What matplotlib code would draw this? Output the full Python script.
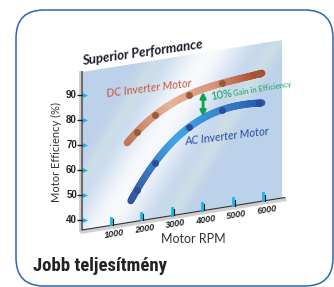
import numpy as np
import matplotlib
matplotlib.use("Agg")
import matplotlib.pyplot as plt
from matplotlib.transforms import Affine2D, offset_copy
from matplotlib.collections import LineCollection
from matplotlib.patches import Polygon, FancyBboxPatch
from matplotlib.colors import LinearSegmentedColormap

# values
rpm_ticks = [1000, 2000, 3000, 4000, 5000, 6000]
eff_ticks = [40, 50, 60, 70, 80, 90]
dc_rpm = [1800, 2400, 3500, 4600, 5800]
dc_eff = [71.7, 77.3, 83.2, 85.8, 87.1]
ac_rpm = [1800, 2400, 3500, 4600, 5800]
ac_eff = [48.6, 58.2, 70.4, 75.0, 75.5]
gain_rpm = 3970
gain_low, gain_high = 73.5, 83.5

fig = plt.figure(figsize=(3.34, 2.87), dpi=100)
ax = fig.add_axes([0, 0, 1, 1])
ax.set_xlim(0, 334)
ax.set_ylim(287, 0)
ax.axis("off")

# skewed "perspective" plane: (rpm, efficiency) -> canvas pixels
chart = Affine2D.from_values(0.0305, -0.00488, 0, -2.5, 82, 320) + ax.transData
EFF_MIN, EFF_MAX, RPM_MAX = 36, 99.2, 6560

# panel background with diagonal highlight
H, W = 287, 334
yy, xx = np.mgrid[0:H, 0:W]
u = xx + 0.6 * yy
white = np.exp(-((u - 240) / 34) ** 2)
green = 0.5 * np.exp(-((u - 300) / 10) ** 2) + 0.4 * np.exp(-((u - 190) / 8) ** 2)
base = np.array([0.74, 0.82, 0.92])
img = base * (1 - white[..., None]) + np.array([0.97, 0.98, 0.99]) * white[..., None]
img = img * (1 - green[..., None]) + np.array([0.85, 0.92, 0.88]) * green[..., None]
panel = Polygon([(0, EFF_MIN), (RPM_MAX, EFF_MIN), (RPM_MAX, EFF_MAX), (0, EFF_MAX)],
                closed=True, transform=chart, fc="none", ec="none")
ax.add_patch(panel)
im = ax.imshow(img, extent=(0, W, H, 0), aspect="auto", interpolation="bilinear", zorder=1)
im.set_clip_path(panel)
ax.set_xlim(0, 334)
ax.set_ylim(287, 0)

# axes bars
ax.plot([0, 0], [EFF_MIN - 0.5, EFF_MAX], color="#c8c8c8", lw=1.2, zorder=2,
        transform=offset_copy(chart, fig=fig, x=-2, y=0, units="dots"))
ax.plot([0, 0], [EFF_MIN - 0.5, EFF_MAX], color="#6e6e6e", lw=1.5, zorder=2, transform=chart)
ax.plot([0, 6650], [EFF_MIN, EFF_MIN], color="#cfcfcf", lw=2.5, zorder=2,
        transform=offset_copy(chart, fig=fig, x=0, y=-2, units="dots"))
ax.plot([0, 6650], [EFF_MIN, EFF_MIN], color="#333333", lw=0.8, zorder=2, transform=chart)

# y ticks
for v in eff_ticks:
    ax.plot([0], [v], marker="_", ms=4, mew=1.0, color="#222222", zorder=3,
            transform=offset_copy(chart, fig=fig, x=-2, y=0, units="dots"))
    ax.plot([0], [v], marker=">", ms=3.5, color="#19b4ea", mec="none", zorder=3,
            transform=offset_copy(chart, fig=fig, x=3, y=0, units="dots"))
    ax.text(0, v, str(v), ha="right", va="center", fontsize=7, fontweight="bold",
            family="Liberation Sans", color="#222222",
            transform=offset_copy(chart, fig=fig, x=-5, y=0, units="dots"))

# x ticks
for r in rpm_ticks:
    ax.plot([r, r], [EFF_MIN + 0.3, EFF_MIN + 3.0], color="#19b4ea", lw=2, zorder=3,
            transform=offset_copy(chart, fig=fig, x=-1.8, y=0, units="dots"))
    ax.plot([r, r], [EFF_MIN, EFF_MIN + 2.4], color="#111111", lw=0.8, zorder=3, transform=chart)
    ax.text(r, EFF_MIN, str(r), ha="center", va="center", rotation=9, rotation_mode="anchor",
            fontsize=6.5, fontweight="bold", style="italic", family="Liberation Sans",
            color="#222222", transform=offset_copy(chart, fig=fig, x=2, y=-9, units="dots"))


def band(rpm, eff, lo, hi, colors):
    coef = np.polyfit(rpm, eff, 3)
    r = np.linspace(lo, hi, 150)
    e = np.polyval(coef, r)
    pts = np.column_stack([r, e]).reshape(-1, 1, 2)
    segs = np.concatenate([pts[:-1], pts[1:]], axis=1)
    cmap = LinearSegmentedColormap.from_list("band", colors)
    lc = LineCollection(segs, colors=cmap(np.linspace(0, 1, len(segs))), linewidths=5,
                        capstyle="round", transform=chart, zorder=4)
    ax.add_collection(lc)


band(dc_rpm, dc_eff, 1480, 5900, ["#c27555", "#e9b29a", "#d9947a", "#aa4829"])
band(ac_rpm, ac_eff, 1600, 5900, ["#34549e", "#3fa6e6", "#3a88d2", "#2c5cb0"])
ax.plot(dc_rpm, dc_eff, "o", ms=5, color="#9c5a3c", mec="none", zorder=5, transform=chart)
ax.plot(ac_rpm, ac_eff, "o", ms=5, color="#2c4c98", mec="none", zorder=5, transform=chart)

# gain arrow
ax.annotate("", xy=(gain_rpm, gain_high), xytext=(gain_rpm, gain_low),
            xycoords=chart, textcoords=chart, zorder=6,
            arrowprops=dict(arrowstyle="<|-|>", color="#12a052", lw=2,
                            mutation_scale=8, shrinkA=0, shrinkB=0))

# texts
ax.text(83, 65, "Superior Performance", ha="left", va="baseline", rotation=8,
        rotation_mode="anchor", fontsize=9.5, fontweight="bold", style="italic",
        family="Lato", color="#1c1c28", zorder=6)
ax.text(107, 97, "DC Inverter Motor", ha="left", va="baseline", rotation=7,
        rotation_mode="anchor", fontsize=8, style="italic", family="Lato",
        color="#c9563c", zorder=6)
ax.text(185, 145, "AC Inverter Motor", ha="left", va="baseline", rotation=7,
        rotation_mode="anchor", fontsize=8, style="italic", family="Lato",
        color="#2b4c9b", zorder=6)
ax.text(211, 100, "10%", ha="left", va="baseline", rotation=9.5,
        rotation_mode="anchor", fontsize=8, family="Lato", color="#1aa060", zorder=6)
ax.text(234, 96, "Gain in Efficiency", ha="left", va="baseline", rotation=9.5,
        rotation_mode="anchor", fontsize=5.5, family="Lato", color="#1aa060", zorder=6)
ax.text(56, 152, "Motor Efficiency (%)", ha="center", va="center", rotation=90,
        fontsize=8, family="Lato", color="#333333", zorder=6)
ax.text(193, 239, "Motor RPM", ha="center", va="center", fontsize=9,
        family="Lato", color="#333333", zorder=6)
ax.text(33, 271, "Jobb teljesítmény", ha="left", va="baseline", fontsize=13.5,
        fontweight="bold", fontstretch="condensed",
        family=["Roboto Condensed", "DejaVu Sans"], color="#222222", zorder=6)

# rounded frame
ax.add_patch(FancyBboxPatch((16, 10), 317, 276, boxstyle="round,pad=0,rounding_size=28",
                            fill=False, ec="#2d67ad", lw=1.1, zorder=7))

fig.savefig("out.png", dpi=100)
